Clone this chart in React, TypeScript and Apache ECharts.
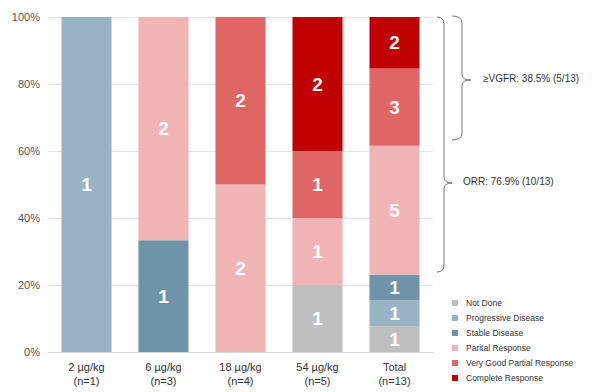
import React, { useEffect, useRef } from "react";
import * as echarts from "echarts";

const categories = ["2 µg/kg\n(n=1)", "6 µg/kg\n(n=3)", "18 µg/kg\n(n=4)", "54 µg/kg\n(n=5)", "Total\n(n=13)"];
const nValues = [1, 3, 4, 5, 13];
const notDone = [0, 0, 0, 1, 1];
const progressive = [1, 0, 0, 0, 1];
const stable = [0, 1, 0, 0, 1];
const partial = [0, 2, 2, 1, 5];
const vgpr = [0, 0, 2, 1, 3];
const complete = [0, 0, 0, 2, 2];
const yTicks = [0, 20, 40, 60, 80, 100];
const orrText = "ORR: 76.9% (10/13)";
const vgprText = "≥VGFR: 38.5% (5/13)";

const seriesDefs = [
  { name: "Not Done", counts: notDone, color: "#bfbfbf" },
  { name: "Progressive Disease", counts: progressive, color: "#97b3c4" },
  { name: "Stable Disease", counts: stable, color: "#6f94aa" },
  { name: "Parital Response", counts: partial, color: "#f0b4b4" },
  { name: "Very Good Partial Response", counts: vgpr, color: "#e06666" },
  { name: "Complete Response", counts: complete, color: "#c00000" },
];

echarts.graphic.registerShape(
  "braceOuter",
  echarts.graphic.extendPath(
    "M437,17 Q444,17 444,24 L444,177 Q444,183 452,183 Q444,183 444,189 L444,265 Q444,272 437,272",
    {}
  ) as any
);
echarts.graphic.registerShape(
  "braceInner",
  echarts.graphic.extendPath(
    "M452,16 Q462,16 462,23 L462,75 Q462,80 471,80 Q462,80 462,85 L462,133 Q462,140 452,140",
    {}
  ) as any
);

export default function App() {
  const ref = useRef<HTMLDivElement>(null);
  useEffect(() => {
    if (!ref.current) return;
    const chart = echarts.init(ref.current, undefined, { renderer: "svg" });
    const font = "Liberation Sans, Arial, sans-serif";
    chart.setOption({
      animation: false,
      textStyle: { fontFamily: font },
      grid: { left: 48, right: 166, top: 17, bottom: 40, containLabel: false },
      legend: {
        orient: "vertical",
        left: 452,
        top: 298,
        padding: 0,
        itemWidth: 6,
        itemHeight: 6,
        itemGap: 5,
        icon: "rect",
        textStyle: { fontSize: 8.5, color: "#333", lineHeight: 10, padding: [0, 0, 0, 3], fontFamily: font },
        data: seriesDefs.map((s) => s.name),
      },
      xAxis: {
        type: "category",
        data: categories,
        axisLine: { lineStyle: { color: "#d9d9d9" } },
        axisTick: { show: false },
        axisLabel: { color: "#333", fontSize: 11, lineHeight: 14, margin: 8, fontFamily: font },
      },
      yAxis: {
        type: "value",
        min: 0,
        max: 100,
        interval: 20,
        axisLine: { show: false },
        axisTick: { show: false },
        splitLine: { lineStyle: { color: "#e3e3e3" } },
        axisLabel: {
          color: "#555",
          fontSize: 11,
          margin: 8,
          fontFamily: font,
          formatter: (v: number) => (yTicks.includes(v) ? v + "%" : ""),
        },
      },
      series: seriesDefs.map((s) => ({
        name: s.name,
        type: "bar",
        stack: "total",
        barCategoryGap: "35%",
        itemStyle: { color: s.color },
        data: s.counts.map((c, i) => (c > 0 ? (c / nValues[i]) * 100 : null)),
        label: {
          show: true,
          position: "inside",
          color: "#fff",
          fontSize: 19,
          fontWeight: "bold",
          fontFamily: font,
          formatter: (p: any) => String(s.counts[p.dataIndex]),
        },
      })),
      graphic: [
        { type: "braceOuter", x: 0, y: 0, style: { fill: "none", stroke: "#777", lineWidth: 1 } },
        { type: "braceInner", x: 0, y: 0, style: { fill: "none", stroke: "#777", lineWidth: 1 } },
        {
          type: "text",
          left: 463,
          top: 176,
          style: { text: orrText, fontSize: 10, fill: "#333", fontFamily: font },
        },
        {
          type: "text",
          left: 483,
          top: 73,
          style: { text: vgprText, fontSize: 10, fill: "#333", fontFamily: font },
        },
      ],
    });
    return () => chart.dispose();
  }, []);
  return <div ref={ref} style={{ width: 599, height: 392, position: "absolute", left: 0, top: 0 }} />;
}
